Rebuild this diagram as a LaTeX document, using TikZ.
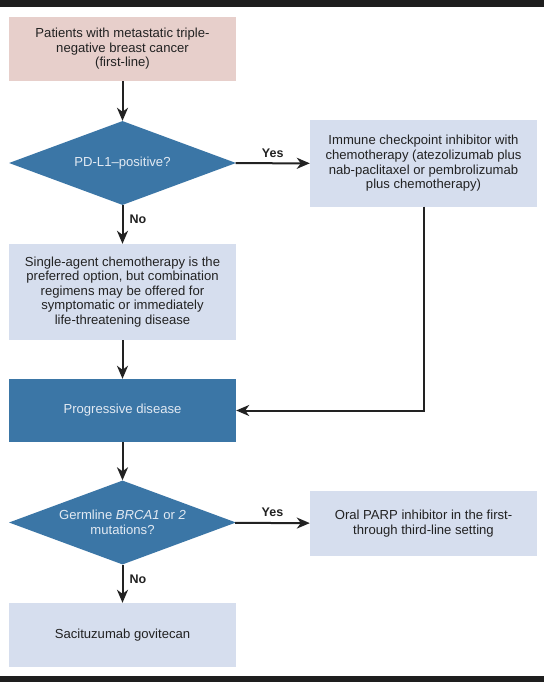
\documentclass[tikz,border=0pt]{standalone}
\usepackage{fontspec}
\setmainfont{Liberation Sans}
\usetikzlibrary{shapes.geometric,arrows.meta}
\definecolor{pinkbox}{HTML}{E7CFCB}
\definecolor{lightbox}{HTML}{D6DEEE}
\definecolor{steel}{HTML}{3B76A6}
\definecolor{ink}{HTML}{222222}
\definecolor{paletext}{HTML}{E2EAF3}
\definecolor{band}{HTML}{1E1E1E}
\begin{document}
\begin{tikzpicture}[x=1pt,y=-1pt,
  txt/.style={font=\fontsize{13.1}{14.6}\selectfont, align=center, text=ink},
  lbox/.style={txt, rectangle, fill=lightbox, minimum width=227pt, inner sep=0pt},
  pbox/.style={txt, rectangle, fill=pinkbox, minimum width=227pt, inner sep=0pt},
  dbox/.style={txt, rectangle, fill=steel, text=paletext, minimum width=227pt, inner sep=0pt},
  decide/.style={txt, diamond, fill=steel, text=paletext, minimum width=227pt, minimum height=84pt, inner sep=0pt, aspect=2.7},
  arr/.style={draw=ink, line width=2pt, -{Stealth[length=13pt,width=11pt,inset=4pt]}},
  lab/.style={font=\fontsize{12.5}{14}\bfseries\selectfont, text=ink, inner sep=2pt}]
\useasboundingbox (0,0) rectangle (544,682);
\fill[white] (0,0) rectangle (544,682);
\fill[band] (0,0) rectangle (544,7);
\fill[band] (0,676) rectangle (544,682);

\node[pbox, minimum height=64pt] (top) at (122.5,49) {Patients with metastatic triple-\\negative breast cancer\\(first-line)};
\node[decide] (d1) at (122.5,163) {PD-L1–positive?};
\node[lbox, minimum height=86pt] (r1) at (423.5,163.5) {Immune checkpoint inhibitor with\\chemotherapy (atezolizumab plus\\nab-paclitaxel or pembrolizumab\\plus chemotherapy)};
\node[lbox, minimum height=96pt] (b2) at (122.5,292) {Single-agent chemotherapy is the\\preferred option, but combination\\regimens may be offered for\\symptomatic or immediately\\life-threatening disease};
\node[dbox, minimum height=63pt] (prog) at (122.5,410.5) {Progressive disease};
\node[decide] (d2) at (122.5,522.5) {Germline \textit{BRCA1} or \textit{2}\\mutations?};
\node[lbox, minimum height=65pt] (r2) at (423.5,523.5) {Oral PARP inhibitor in the first-\\through third-line setting};
\node[lbox, minimum height=64pt] (sac) at (122.5,635) {Sacituzumab govitecan};

\draw[arr] (top) -- (d1);
\draw[arr] (d1) -- node[lab, above, yshift=3pt] {Yes} (r1);
\draw[arr] (d1) -- node[lab, right, xshift=4pt, yshift=5pt] {No} (b2);
\draw[arr] (b2) -- (prog);
\draw[arr] (r1.south) |- (prog.east);
\draw[arr] (prog) -- (d2);
\draw[arr] (d2) -- node[lab, above, yshift=3pt] {Yes} (r2);
\draw[arr] (d2) -- node[lab, right, xshift=4pt, yshift=4pt] {No} (sac);
\end{tikzpicture}
\end{document}
